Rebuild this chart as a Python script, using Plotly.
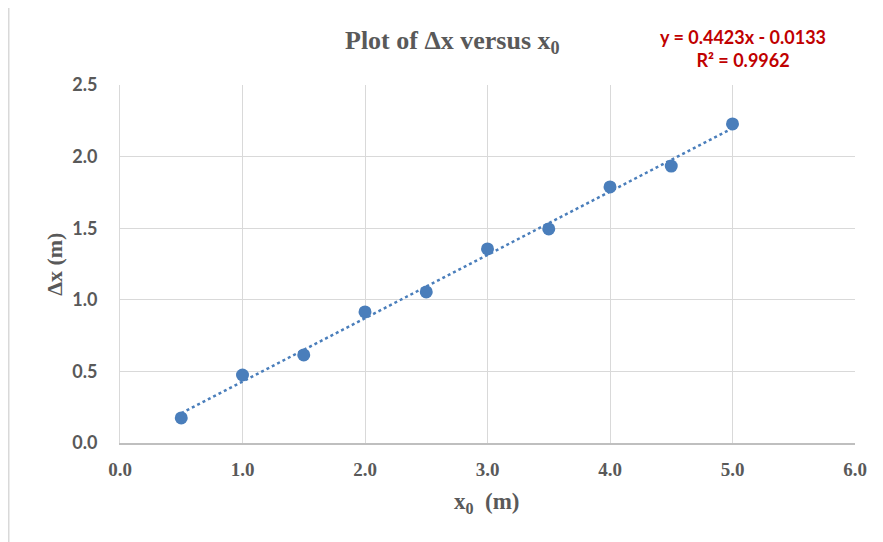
import numpy as np
import plotly.graph_objects as go

x0 = [0.5, 1.0, 1.5, 2.0, 2.5, 3.0, 3.5, 4.0, 4.5, 5.0]
dx = [0.175, 0.475, 0.615, 0.915, 1.055, 1.355, 1.495, 1.788, 1.934, 2.228]
slope = 0.4423
intercept = -0.0133
r2 = 0.9962
x_ticks = [0, 1, 2, 3, 4, 5, 6]
y_ticks = [0, 0.5, 1.0, 1.5, 2.0, 2.5]

gray = "#595959"
blue = "#4a7ebb"

fig = go.Figure()
trend_x = [min(x0), max(x0)]
trend_y = [slope * v + intercept for v in trend_x]
fig.add_trace(go.Scatter(x=trend_x, y=trend_y, mode="lines",
                         line=dict(color=blue, width=2.5, dash="dot"),
                         showlegend=False, hoverinfo="skip"))
fig.add_trace(go.Scatter(x=x0, y=dx, mode="markers",
                         marker=dict(color=blue, size=13),
                         showlegend=False))

bl = (8.5 - 120) / 735
bt = 1 + (85 - 5.5) / 358

fig.update_layout(
    width=875, height=534,
    margin=dict(l=112, r=28, t=77, b=99),
    plot_bgcolor="white", paper_bgcolor="white",
    showlegend=False,
    xaxis=dict(range=[0, 6], tickvals=x_ticks, tickformat=".1f",
               showgrid=True, gridcolor="#d9d9d9", gridwidth=1,
               zeroline=False, showline=True, linecolor="#bfbfbf", linewidth=1.5,
               ticks="", ticklen=0, ticklabelstandoff=8,
               tickfont=dict(family="Liberation Serif", size=19, color=gray, weight="bold")),
    yaxis=dict(range=[0, 2.5], tickvals=y_ticks, tickformat=".1f",
               showgrid=True, gridcolor="#d9d9d9", gridwidth=1,
               zeroline=False, showline=True, linecolor="#d9d9d9", linewidth=1,
               ticks="", ticklen=0, ticklabelstandoff=18,
               tickfont=dict(family="Lato", size=18, color=gray, weight="bold")),
    annotations=[
        dict(text="<b>Plot of Δx versus x<sub>0</sub></b>", xref="paper", yref="paper",
             x=0.453, y=1.12, xanchor="center", yanchor="middle", showarrow=False,
             font=dict(family="Liberation Serif", size=26, color=gray)),
        dict(text=f"<b>y = {slope}x - {abs(intercept)}<br>R² = {r2}</b>",
             xref="paper", yref="paper", x=0.848, y=1.103, xanchor="center", yanchor="middle",
             showarrow=False, align="center",
             font=dict(family="Lato", size=18, color="#c00000")),
        dict(text="<b>Δx (m)</b>", xref="paper", yref="paper", x=-0.09, y=0.5,
             xanchor="center", yanchor="middle", textangle=-90, showarrow=False,
             font=dict(family="Liberation Serif", size=22, color=gray)),
        dict(text="<b>x<sub>0</sub>  (m)</b>", xref="paper", yref="paper", x=0.499, y=-0.168,
             xanchor="center", yanchor="middle", showarrow=False,
             font=dict(family="Liberation Serif", size=23, color=gray)),
    ],
    shapes=[
        dict(type="line", xref="paper", yref="paper", x0=bl, x1=1.2, y0=bt, y1=bt,
             line=dict(color="#d9d9d9", width=2), layer="below"),
        dict(type="line", xref="paper", yref="paper", x0=bl, x1=bl, y0=bt, y1=-0.4,
             line=dict(color="#d9d9d9", width=2), layer="below"),
    ],
)

fig.write_html("out.html")
